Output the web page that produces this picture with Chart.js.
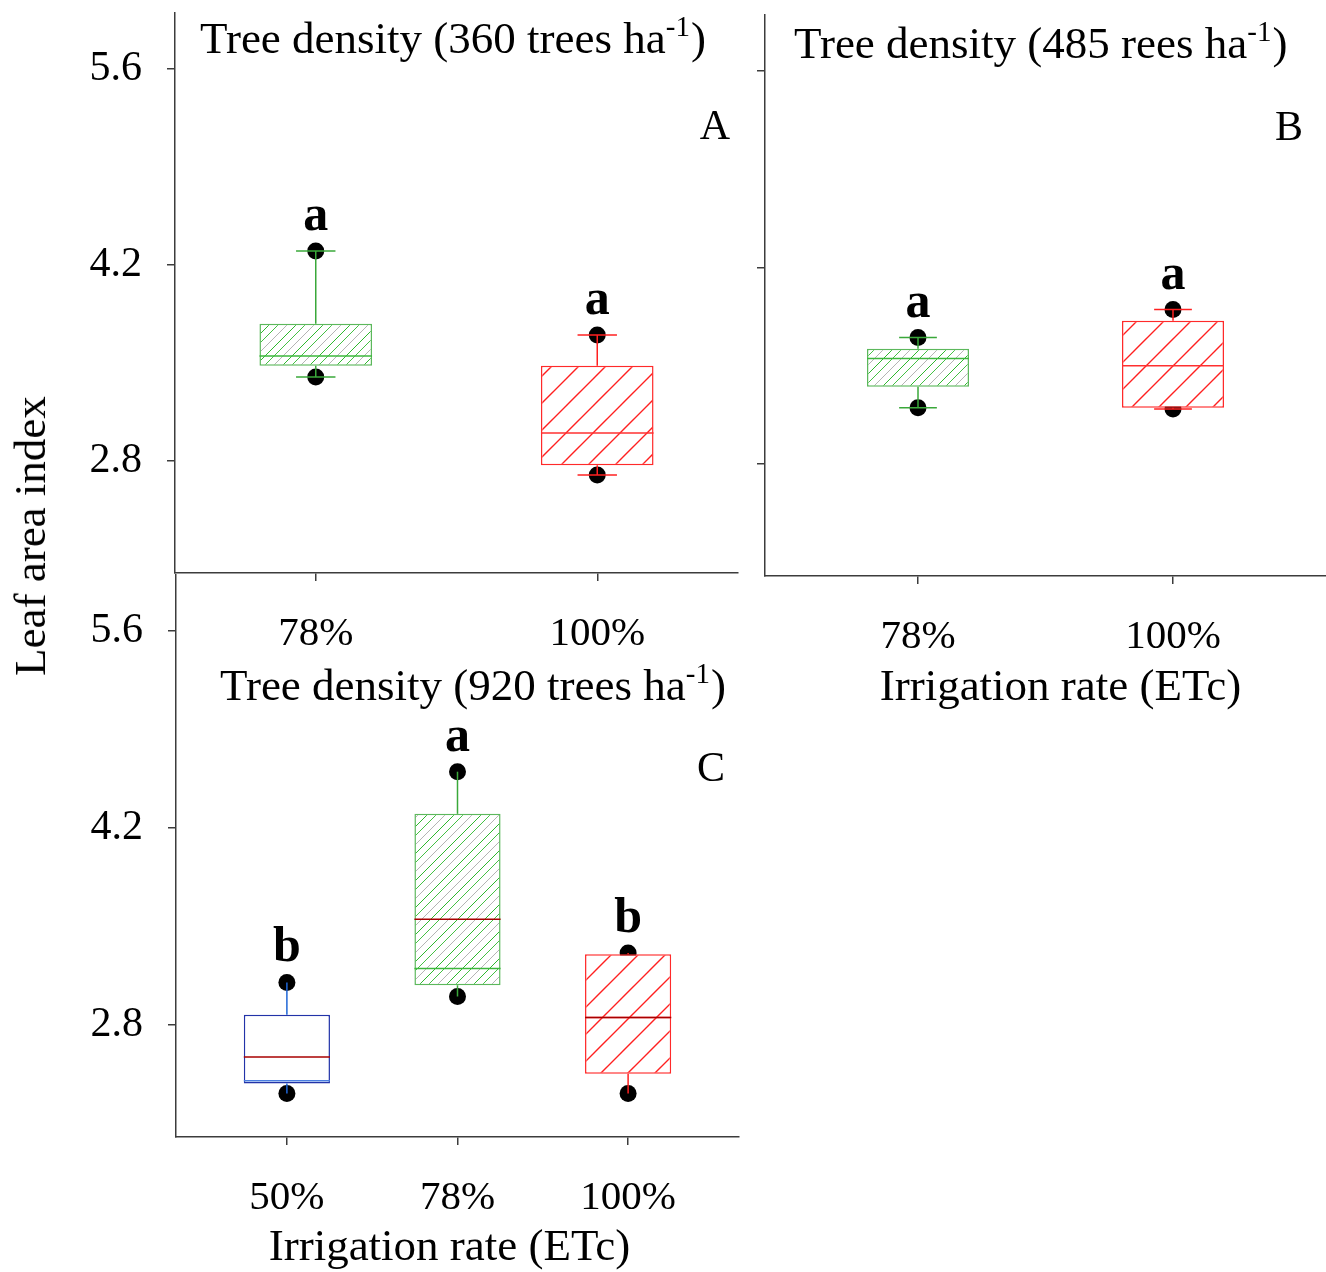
<!DOCTYPE html>
<html lang="en">
<head>
  <meta charset="UTF-8">
  <title>Leaf area index by irrigation rate</title>
  <script src="https://cdn.jsdelivr.net/npm/chart.js"></script>
  <style>
    body {
      margin: 0;
      width: 1326px;
      height: 1272px;
      position: relative;
      overflow: hidden;
      background: #fff;
      font-family: "Liberation Serif", "Times New Roman", serif;
    }
    canvas.panel {
      position: absolute;
      left: 0;
      top: 0;
    }
    #ylabel {
      position: absolute;
      left: 30px;
      top: 536px;
      transform: translate(-50%, -50%) rotate(-90deg);
      white-space: nowrap;
      font-size: 45px;
      color: #000;
    }
  </style>
</head>
<body>
  <canvas id="panelA" class="panel" width="1326" height="1272"></canvas>
  <canvas id="panelB" class="panel" width="1326" height="1272"></canvas>
  <canvas id="panelC" class="panel" width="1326" height="1272"></canvas>
  <div id="ylabel">Leaf area index</div>

  <script>
    // irrigation treatments (% ETc)
    const ratesAB = ['78%', '100%'];
    const ratesC = ['50%', '78%', '100%'];
    const yTicks = [2.8, 4.2, 5.6];

    // 360 trees/ha
    const minA = [3.40, 2.70];
    const q1A = [3.48, 2.77];
    const medA = [3.55, 3.00];
    const q3A = [3.78, 3.48];
    const maxA = [4.30, 3.70];
    const lettersA = ['a', 'a'];

    // 485 trees/ha
    const minB = [3.20, 3.19];
    const q1B = [3.35, 3.20];
    const medB = [3.55, 3.50];
    const q3B = [3.62, 3.82];
    const maxB = [3.70, 3.90];
    const lettersB = ['a', 'a'];

    // 920 trees/ha
    const minC = [2.31, 3.00, 2.31];
    const q1C = [2.38, 3.08, 2.45];
    const medC = [2.40, 3.20, 2.85];
    const meanC = [2.57, 3.55, 2.85];
    const q3C = [2.87, 4.30, 3.30];
    const maxC = [3.10, 4.60, 3.31];
    const lettersC = ['b', 'a', 'b'];

    const serif = '"Liberation Serif", "Times New Roman", serif';
    const axisColor = '#3c3c3c';
    const meanColor = '#a80000';
    const PAGE_W = 1326, PAGE_H = 1272;

    const rateStyle = {
      '50%':  { border: '#2233a8', whisker: '#1f66d6', median: '#4a7ee0', hatch: null },
      '78%':  { border: '#5cb85c', whisker: '#3aa83a', median: '#3cb83c', hatch: [['#2fb82f', '#45c045', '#b4b4b4'], 9, 1] },
      '100%': { border: '#ff2a2a', whisker: '#ff2020', median: '#ff3030', hatch: [['#ff2020'], 27, 1.4] }
    };

    // diagonal "/" hatching on a white ground, one line colour per gap
    function makePattern(ctx, colors, gap, lw) {
      const tile = gap * colors.length;
      const c = document.createElement('canvas');
      c.width = c.height = tile;
      const g = c.getContext('2d');
      g.fillStyle = '#fff';
      g.fillRect(0, 0, tile, tile);
      g.lineWidth = lw;
      colors.forEach((col, i) => {
        g.strokeStyle = col;
        g.beginPath();
        for (let k = i * gap; k <= 2 * tile; k += tile) {
          g.moveTo(-2, k + 2);
          g.lineTo(tile + 2, k - tile - 2);
        }
        g.stroke();
      });
      return ctx.createPattern(c, 'repeat');
    }

    function line(ctx, x1, y1, x2, y2) {
      ctx.beginPath();
      ctx.moveTo(x1, y1);
      ctx.lineTo(x2, y2);
      ctx.stroke();
    }

    // whiskers, caps, median/mean lines, letters, headings and axis title
    function boxMarks(p) {
      return {
        id: 'boxMarks',
        afterDatasetsDraw(chart) {
          const { ctx, chartArea: area } = chart;
          const y = chart.scales.y;
          const bars = chart.getDatasetMeta(0).data;
          ctx.save();
          ctx.lineWidth = 1.5;
          p.rates.forEach((r, i) => {
            const st = rateStyle[r];
            const bar = bars[i];
            const cx = bar.x, half = bar.width / 2;
            const yMin = y.getPixelForValue(p.min[i]);
            const yMax = y.getPixelForValue(p.max[i]);
            const yQ1 = y.getPixelForValue(p.q1[i]);
            const yQ3 = y.getPixelForValue(p.q3[i]);

            ctx.strokeStyle = st.whisker;
            line(ctx, cx, yQ3, cx, yMax);
            line(ctx, cx, yQ1, cx, yMin);
            if (p.cap) {
              const cw = bar.width * p.cap / 2;
              line(ctx, cx - cw, yMax, cx + cw, yMax);
              line(ctx, cx - cw, yMin, cx + cw, yMin);
            }

            const yMed = y.getPixelForValue(p.med[i]);
            ctx.strokeStyle = st.median;
            line(ctx, cx - half, yMed, cx + half, yMed);
            if (p.mean && p.mean[i] != null) {
              const yMean = y.getPixelForValue(p.mean[i]);
              ctx.strokeStyle = meanColor;
              line(ctx, cx - half, yMean, cx + half, yMean);
            }

            ctx.fillStyle = '#000';
            ctx.font = 'bold 50px ' + serif;
            ctx.textAlign = 'center';
            ctx.textBaseline = 'alphabetic';
            ctx.fillText(p.letters[i], cx, yMax - 21);
          });

          // heading with superscript unit
          ctx.fillStyle = '#000';
          ctx.textAlign = 'left';
          ctx.textBaseline = 'alphabetic';
          let tx = area.left + p.titleAt[0];
          const ty = area.top + p.titleAt[1];
          ctx.font = '45px ' + serif;
          ctx.fillText(p.title[0], tx, ty);
          tx += ctx.measureText(p.title[0]).width;
          ctx.font = '29px ' + serif;
          ctx.fillText(p.title[1], tx, ty - 17);
          tx += ctx.measureText(p.title[1]).width + 1;
          ctx.font = '45px ' + serif;
          ctx.fillText(p.title[2], tx, ty);

          ctx.textAlign = 'right';
          ctx.font = '42px ' + serif;
          ctx.fillText(p.tag, area.right - p.tagAt[0], area.top + p.tagAt[1]);

          if (p.xTitle) {
            ctx.textAlign = 'center';
            ctx.textBaseline = 'middle';
            ctx.font = '45px ' + serif;
            ctx.fillText(p.xTitle, (area.left + area.right) / 2 + p.xTitleAt[0], area.bottom + p.xTitleAt[1]);
          }
          ctx.restore();
        }
      };
    }

    function drawPanel(id, p) {
      const ctx = document.getElementById(id).getContext('2d');
      const pos = p.rates.map((_, i) => i + 1);
      const fills = p.rates.map(r => {
        const h = rateStyle[r].hatch;
        return h ? makePattern(ctx, h[0], h[1], h[2]) : '#fff';
      });

      return new Chart(ctx, {
        type: 'bar',
        data: {
          datasets: [
            {
              type: 'bar',
              data: pos.map((x, i) => ({ x: x, y: [p.q1[i], p.q3[i]] })),
              backgroundColor: fills,
              borderColor: p.rates.map(r => rateStyle[r].border),
              borderWidth: 1.5,
              borderSkipped: false,
              barPercentage: p.barPct,
              categoryPercentage: 1,
              order: 1
            },
            {
              type: 'scatter',
              data: pos.flatMap((x, i) => [{ x: x, y: p.min[i] }, { x: x, y: p.max[i] }]),
              pointRadius: 8.5,
              pointBackgroundColor: '#000',
              pointBorderWidth: 0,
              order: 2
            }
          ]
        },
        options: {
          responsive: false,
          animation: false,
          devicePixelRatio: 1,
          events: [],
          layout: {
            autoPadding: false,
            padding: {
              left: p.area.left - 120,
              top: p.area.top,
              right: PAGE_W - p.area.right,
              bottom: PAGE_H - p.area.bottom - 135
            }
          },
          plugins: {
            legend: { display: false },
            tooltip: { enabled: false }
          },
          scales: {
            x: {
              type: 'linear',
              offset: false,
              min: p.xRange[0],
              max: p.xRange[1],
              afterBuildTicks: s => { s.ticks = pos.map(v => ({ value: v })); },
              afterFit: s => { s.height = 135; s.paddingLeft = 0; s.paddingRight = 0; },
              border: { display: true, color: axisColor, width: 1.5 },
              grid: { offset: false, drawOnChartArea: false, drawTicks: true, tickLength: 8, color: axisColor, lineWidth: 1.5 },
              ticks: {
                padding: 29,
                color: '#000',
                font: { family: serif, size: 41 },
                maxRotation: 0,
                callback: (v, i) => p.rates[i]
              }
            },
            y: {
              type: 'linear',
              min: 2.0,
              max: 6.0,
              afterBuildTicks: s => { s.ticks = yTicks.map(v => ({ value: v })); },
              afterFit: s => { s.width = 120; s.paddingTop = 0; s.paddingBottom = 0; },
              border: { display: true, color: axisColor, width: 1.5 },
              grid: { drawOnChartArea: false, drawTicks: true, tickLength: 8, color: axisColor, lineWidth: 1.5 },
              ticks: {
                padding: 25,
                color: '#000',
                font: { family: serif, size: 42 },
                callback: v => p.yLabels ? v.toFixed(1) : ''
              }
            }
          }
        },
        plugins: [boxMarks(p)]
      });
    }

    drawPanel('panelA', {
      rates: ratesAB, min: minA, q1: q1A, med: medA, q3: q3A, max: maxA, letters: lettersA,
      area: { left: 175, top: 13, right: 738, bottom: 573 },
      xRange: [0.5, 2.5], barPct: 0.40, cap: 0.35, yLabels: true,
      title: ['Tree density (360 trees ha', '-1', ')'], titleAt: [25, 40],
      tag: 'A', tagAt: [8, 126]
    });

    drawPanel('panelB', {
      rates: ratesAB, min: minB, q1: q1B, med: medB, q3: q3B, max: maxB, letters: lettersB,
      area: { left: 765, top: 15, right: 1326, bottom: 576 },
      xRange: [0.4, 2.6], barPct: 0.40, cap: 0.37, yLabels: false,
      xTitle: 'Irrigation rate (ETc)', xTitleAt: [15, 112],
      title: ['Tree density (485 rees ha', '-1', ')'], titleAt: [29, 43],
      tag: 'B', tagAt: [23, 125]
    });

    drawPanel('panelC', {
      rates: ratesC, min: minC, q1: q1C, med: medC, mean: meanC, q3: q3C, max: maxC, letters: lettersC,
      area: { left: 176, top: 575, right: 739, bottom: 1137 },
      xRange: [0.35, 3.65], barPct: 0.505, cap: 0, yLabels: true,
      xTitle: 'Irrigation rate (ETc)', xTitleAt: [-8, 111],
      title: ['Tree density (920 trees ha', '-1', ')'], titleAt: [44, 125],
      tag: 'C', tagAt: [14, 206]
    });
  </script>
</body>
</html>
